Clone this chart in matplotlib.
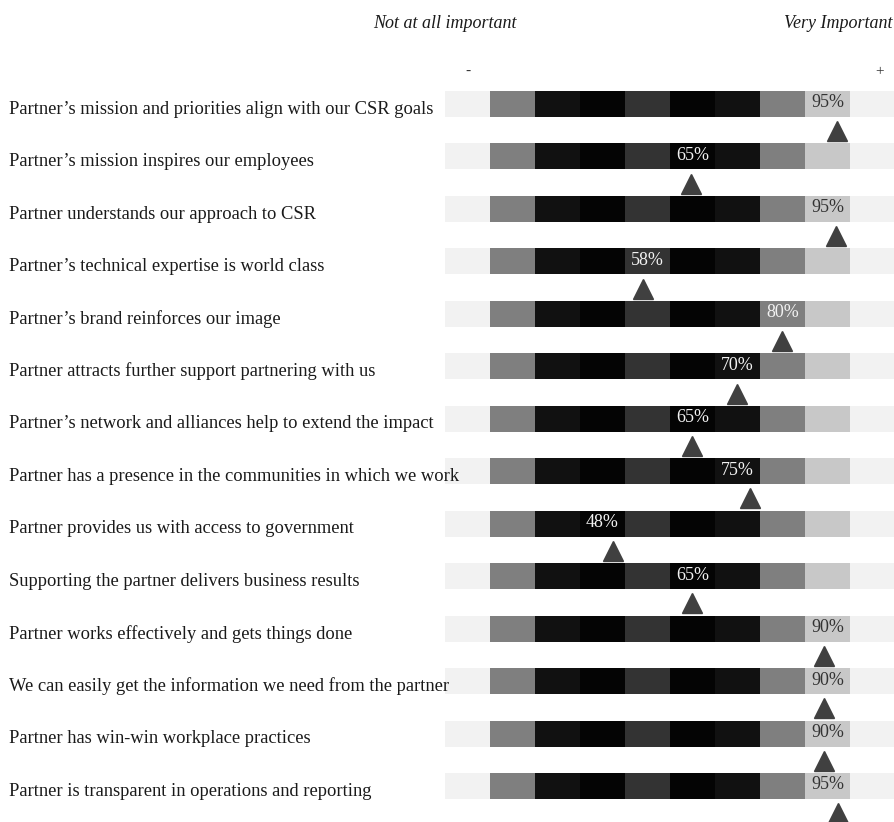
"""
Importance rating strips for partner attributes
"""
import matplotlib
matplotlib.use("Agg")
import matplotlib.pyplot as plt

plt.rcParams['font.family'] = ['Liberation Serif', 'DejaVu Serif']

# statements, top to bottom
statements = [
    "Partner\u2019s mission and priorities align with our CSR goals",
    "Partner\u2019s mission inspires our employees",
    "Partner understands our approach to CSR",
    "Partner\u2019s technical expertise is world class",
    "Partner\u2019s brand reinforces our image",
    "Partner attracts further support partnering with us",
    "Partner\u2019s network and alliances help to extend the impact",
    "Partner has a presence in the communities in which we work",
    "Partner provides us with access to government",
    "Supporting the partner delivers business results",
    "Partner works effectively and gets things done",
    "We can easily get the information we need from the partner",
    "Partner has win-win workplace practices",
    "Partner is transparent in operations and reporting",
]

# share rating it important (%)
pct = [95, 65, 95, 58, 80, 70, 65, 75, 48, 65, 90, 90, 90, 95]

# where the arrow sits on the 0-100 strip
arrow_score = [87.2, 54.6, 86.9, 44.1, 74.8, 64.9, 55.0, 67.7, 37.4, 55.0,
               84.2, 84.2, 84.2, 87.3]

# shades of the 10 strip cells (left to right)
cell_shades = ['#f2f2f2', '#7f7f7f', '#111111', '#040404', '#333333',
               '#040404', '#111111', '#7f7f7f', '#c8c8c8', '#f2f2f2']

fig = plt.figure(figsize=(8.95, 8.22), dpi=100)
ax = fig.add_axes([445 / 895, 0, 450 / 895, 1])
ax.set_xlim(0, 100)
ax.set_ylim(13.686, -1.981)
ax.axis('off')

n = len(statements)
for i in range(n):
    # the strip
    for c, shade in enumerate(cell_shades):
        ax.barh(i, 10, left=c * 10, height=0.495, color=shade, linewidth=0)

    # row label
    ax.text(-436 / 4.5, i + 0.1, statements[i], ha='left', va='center',
            fontsize=13.3, color='#1a1a1a', clip_on=False)

    # value label in its cell
    cell = pct[i] // 10 - 1
    txt_col = '#f2f2f2' if int(cell_shades[cell][1:3], 16) < 0xa0 else '#333333'
    ax.text(cell * 10 + 5, i - 0.02, f"{pct[i]}%", ha='center', va='center',
            fontsize=13, color=txt_col)

    # arrow marker under the strip
    ax.plot(arrow_score[i], i + 0.52, marker='^', ms=13.7, color='#404040',
            linestyle='none', clip_on=False)

# header
fig.text(445 / 895, 1 - 23 / 822, "Not at all important", ha='center',
         va='center', fontsize=13, style='italic', color='#1a1a1a')
fig.text(893 / 895, 1 - 23 / 822, "Very Important", ha='right',
         va='center', fontsize=13, style='italic', color='#1a1a1a')
ax.text(5, -0.62, "-", ha='center', va='center', fontsize=11, color='#333333')
ax.text(96.5, -0.62, "+", ha='center', va='center', fontsize=11, color='#333333')

plt.savefig("out.png", dpi=100)
